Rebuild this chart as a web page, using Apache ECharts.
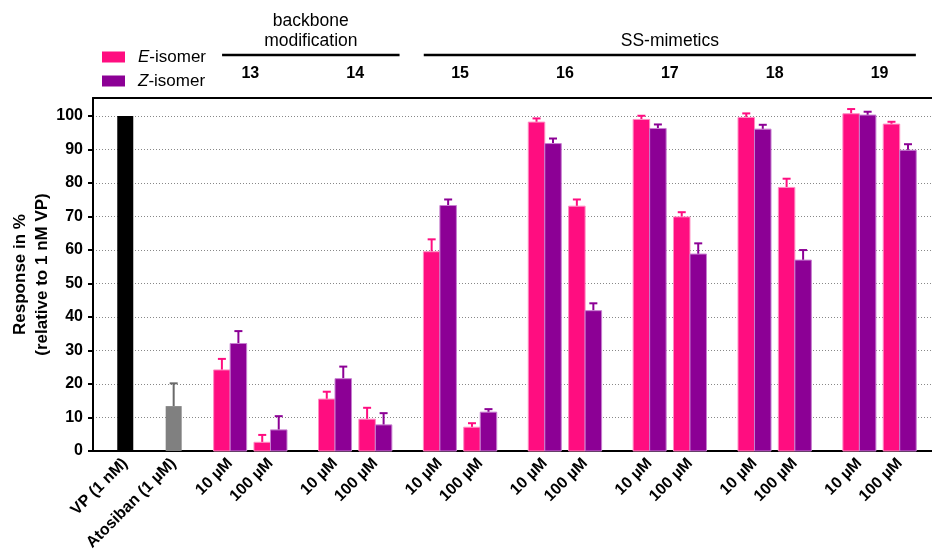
<!DOCTYPE html>
<html>
<head>
<meta charset="utf-8">
<script src="https://cdn.jsdelivr.net/npm/echarts@6/dist/echarts.min.js"></script>
<style>
html,body{margin:0;padding:0;background:#fff;}
#chart{width:932px;height:550px;}
</style>
</head>
<body>
<div id="chart"></div>
<script>
// ---- data ----
var groups = ['13', '14', '15', '16', '17', '18', '19'];
var concentrations = ['10 µM', '100 µM'];
var controlLabels = ['VP (1 nM)', 'Atosiban (1 µM)'];
var controlValues = [100, 13.4];
var controlErrors = [0, 6.8];
// per group: [10 µM, 100 µM]
var eValues = [[24.2, 2.6], [15.5, 9.5], [59.5, 7.1], [98.2, 73.1], [99.0, 69.9], [99.6, 78.7], [100.7, 97.6]];
var eErrors = [[3.3, 2.2], [2.2, 3.4], [3.7, 1.2], [1.1, 2.0], [1.1, 1.4], [1.2, 2.6], [1.4, 0.7]];
var zValues = [[32.1, 6.3], [21.6, 7.8], [73.3, 11.6], [91.8, 41.9], [96.3, 58.8], [96.1, 57.0], [100.3, 89.8]];
var zErrors = [[3.7, 4.1], [3.6, 3.5], [1.8, 0.9], [1.5, 2.2], [1.2, 3.2], [1.3, 3.0], [1.0, 1.8]];
var yTicks = [0, 10, 20, 30, 40, 50, 60, 70, 80, 90, 100];
var seriesNames = ['E-isomer', 'Z-isomer'];
var classLabels = ['backbone\nmodification', 'SS-mimetics'];
var classGroups = [[0, 1], [2, 6]]; // first and last group index of each class

// ---- layout (slot positions on a fine category axis) ----
var SLOT_COUNT = 105;
var controlSlots = [4, 10];
function groupSlot(g, c) { return 17 + 13 * g + 5 * c; }

var slots = [];
for (var i = 0; i < SLOT_COUNT; i++) slots.push('');
controlLabels.forEach(function (l, i) { slots[controlSlots[i]] = l; });
groups.forEach(function (g, gi) {
  concentrations.forEach(function (c, ci) { slots[groupSlot(gi, ci)] = c; });
});

var eData = [], zData = [];
groups.forEach(function (g, gi) {
  concentrations.forEach(function (c, ci) {
    eData.push([groupSlot(gi, ci), eValues[gi][ci], eErrors[gi][ci]]);
    zData.push([groupSlot(gi, ci), zValues[gi][ci], zErrors[gi][ci]]);
  });
});
var vpData = [[controlSlots[0], controlValues[0], controlErrors[0]]];
var atoData = [[controlSlots[1], controlValues[1], controlErrors[1]]];

var PINK = '#FF0D80', PURPLE = '#8C0095';

function makeRender(offset, width, fill, stroke, errColor) {
  return function (params, api) {
    var x = api.value(0), v = api.value(1), e = api.value(2);
    var base = api.coord([x, 0]);
    var top = api.coord([x, v]);
    var et = api.coord([x, v + e]);
    var cx = base[0] + offset;
    var children = [];
    if (e > 0) {
      children.push({ type: 'line', shape: { x1: cx, y1: top[1], x2: cx, y2: et[1] }, style: { stroke: errColor, lineWidth: 2 } });
      children.push({ type: 'line', shape: { x1: cx - 4, y1: et[1], x2: cx + 4, y2: et[1] }, style: { stroke: errColor, lineWidth: 2 } });
    }
    children.push({ type: 'rect', shape: { x: cx - width / 2, y: top[1], width: width, height: base[1] - top[1] },
      style: { fill: fill, stroke: stroke, lineWidth: stroke ? 1 : 0 } });
    return { type: 'group', children: children };
  };
}

var chart = echarts.init(document.getElementById('chart'), null, { renderer: 'canvas' });
var FONT = 'Liberation Sans, Arial, sans-serif';

var option = {
  animation: false,
  backgroundColor: '#fff',
  textStyle: { fontFamily: FONT },
  grid: { left: 93, right: 0, top: 98, bottom: 99, containLabel: false, outerBoundsMode: 'none' },
  legend: {
    data: seriesNames,
    orient: 'vertical',
    left: 97, top: 42,
    itemWidth: 23, itemHeight: 11, itemGap: 4,
    icon: 'rect',
    selectedMode: false,
    formatter: function (name) { return '{i|' + name.charAt(0) + '}{n|' + name.slice(1) + '}'; },
    textStyle: {
      color: '#000', fontSize: 17, lineHeight: 20, padding: [0, 0, 0, 8], fontFamily: FONT,
      rich: {
        i: { fontStyle: 'italic', fontSize: 17, color: '#000', fontFamily: FONT },
        n: { fontSize: 17, color: '#000', fontFamily: FONT }
      }
    }
  },
  xAxis: [{
    type: 'category',
    data: slots,
    boundaryGap: false,
    axisLine: { lineStyle: { color: '#000', width: 2 } },
    axisTick: { show: false },
    splitLine: { show: false },
    axisLabel: { interval: 0, rotate: 45, margin: 10, color: '#000', fontWeight: 'bold', fontSize: 16, fontFamily: FONT }
  }, {
    type: 'category',
    data: slots,
    boundaryGap: false,
    position: 'top',
    axisLine: { lineStyle: { color: '#000', width: 2 } },
    axisTick: { show: false },
    axisLabel: { show: false },
    splitLine: { show: false }
  }],
  yAxis: {
    type: 'value',
    min: 0, max: 105.4, interval: 10,
    name: 'Response in %\n(relative to 1 nM VP)',
    nameLocation: 'middle',
    nameRotate: 90,
    nameGap: 40,
    nameMoveOverlap: false,
    nameTextStyle: { color: '#000', fontSize: 17, fontWeight: 'bold', lineHeight: 22, fontFamily: FONT },
    axisLine: { show: true, lineStyle: { color: '#000', width: 2 } },
    axisTick: { show: true, length: 5, lineStyle: { color: '#000', width: 2 }, customValues: yTicks },
    axisLabel: { color: '#000', fontWeight: 'bold', fontSize: 16, margin: 10, fontFamily: FONT, customValues: yTicks },
    splitLine: { show: true, lineStyle: { color: '#888', width: 1, type: [1, 2] } }
  },
  series: [{
    name: seriesNames[0], type: 'custom', itemStyle: { color: PINK },
    encode: { x: 0, y: 1 }, data: eData,
    renderItem: makeRender(-8.25, 16.5, PINK, '#FF8CC2', PINK)
  }, {
    name: seriesNames[1], type: 'custom', itemStyle: { color: PURPLE },
    encode: { x: 0, y: 1 }, data: zData,
    renderItem: makeRender(8.25, 16.5, PURPLE, '#C77FD0', PURPLE)
  }, {
    name: controlLabels[0], type: 'custom', itemStyle: { color: '#000' },
    encode: { x: 0, y: 1 }, data: vpData,
    renderItem: makeRender(0, 16, '#000', null, '#000')
  }, {
    name: controlLabels[1], type: 'custom', itemStyle: { color: '#808080' },
    encode: { x: 0, y: 1 }, data: atoData,
    renderItem: makeRender(0, 16, '#808080', null, '#6a6a6a')
  }]
};
chart.setOption(option);

// annotations placed via the axis scale
function px(slot) { return chart.convertToPixel({ xAxisIndex: 0 }, slot); }
var graphics = [];
groups.forEach(function (g, gi) {
  var cx = (px(groupSlot(gi, 0)) + px(groupSlot(gi, 1))) / 2;
  graphics.push({ type: 'text', x: cx, y: 74, style: { text: g, fill: '#000', font: 'bold 16px ' + FONT, textAlign: 'center', textVerticalAlign: 'middle' } });
});
var bracketPad = [[1.5, 2.5], [1.9, 2.2]];
classGroups.forEach(function (cg, ci) {
  var x1 = px(groupSlot(cg[0], 0) - bracketPad[ci][0]);
  var x2 = px(groupSlot(cg[1], 1) + bracketPad[ci][1]);
  graphics.push({ type: 'line', shape: { x1: x1, y1: 55, x2: x2, y2: 55 }, style: { stroke: '#000', lineWidth: 2.5 } });
  var lines = classLabels[ci].split('\n');
  lines.forEach(function (t, li) {
    graphics.push({ type: 'text', x: (x1 + x2) / 2, y: 41 - 20 * (lines.length - 1 - li),
      style: { text: t, fill: '#000', font: '17.5px ' + FONT, textAlign: 'center', textVerticalAlign: 'middle' } });
  });
});
chart.setOption({ graphic: graphics });
</script>
</body>
</html>
